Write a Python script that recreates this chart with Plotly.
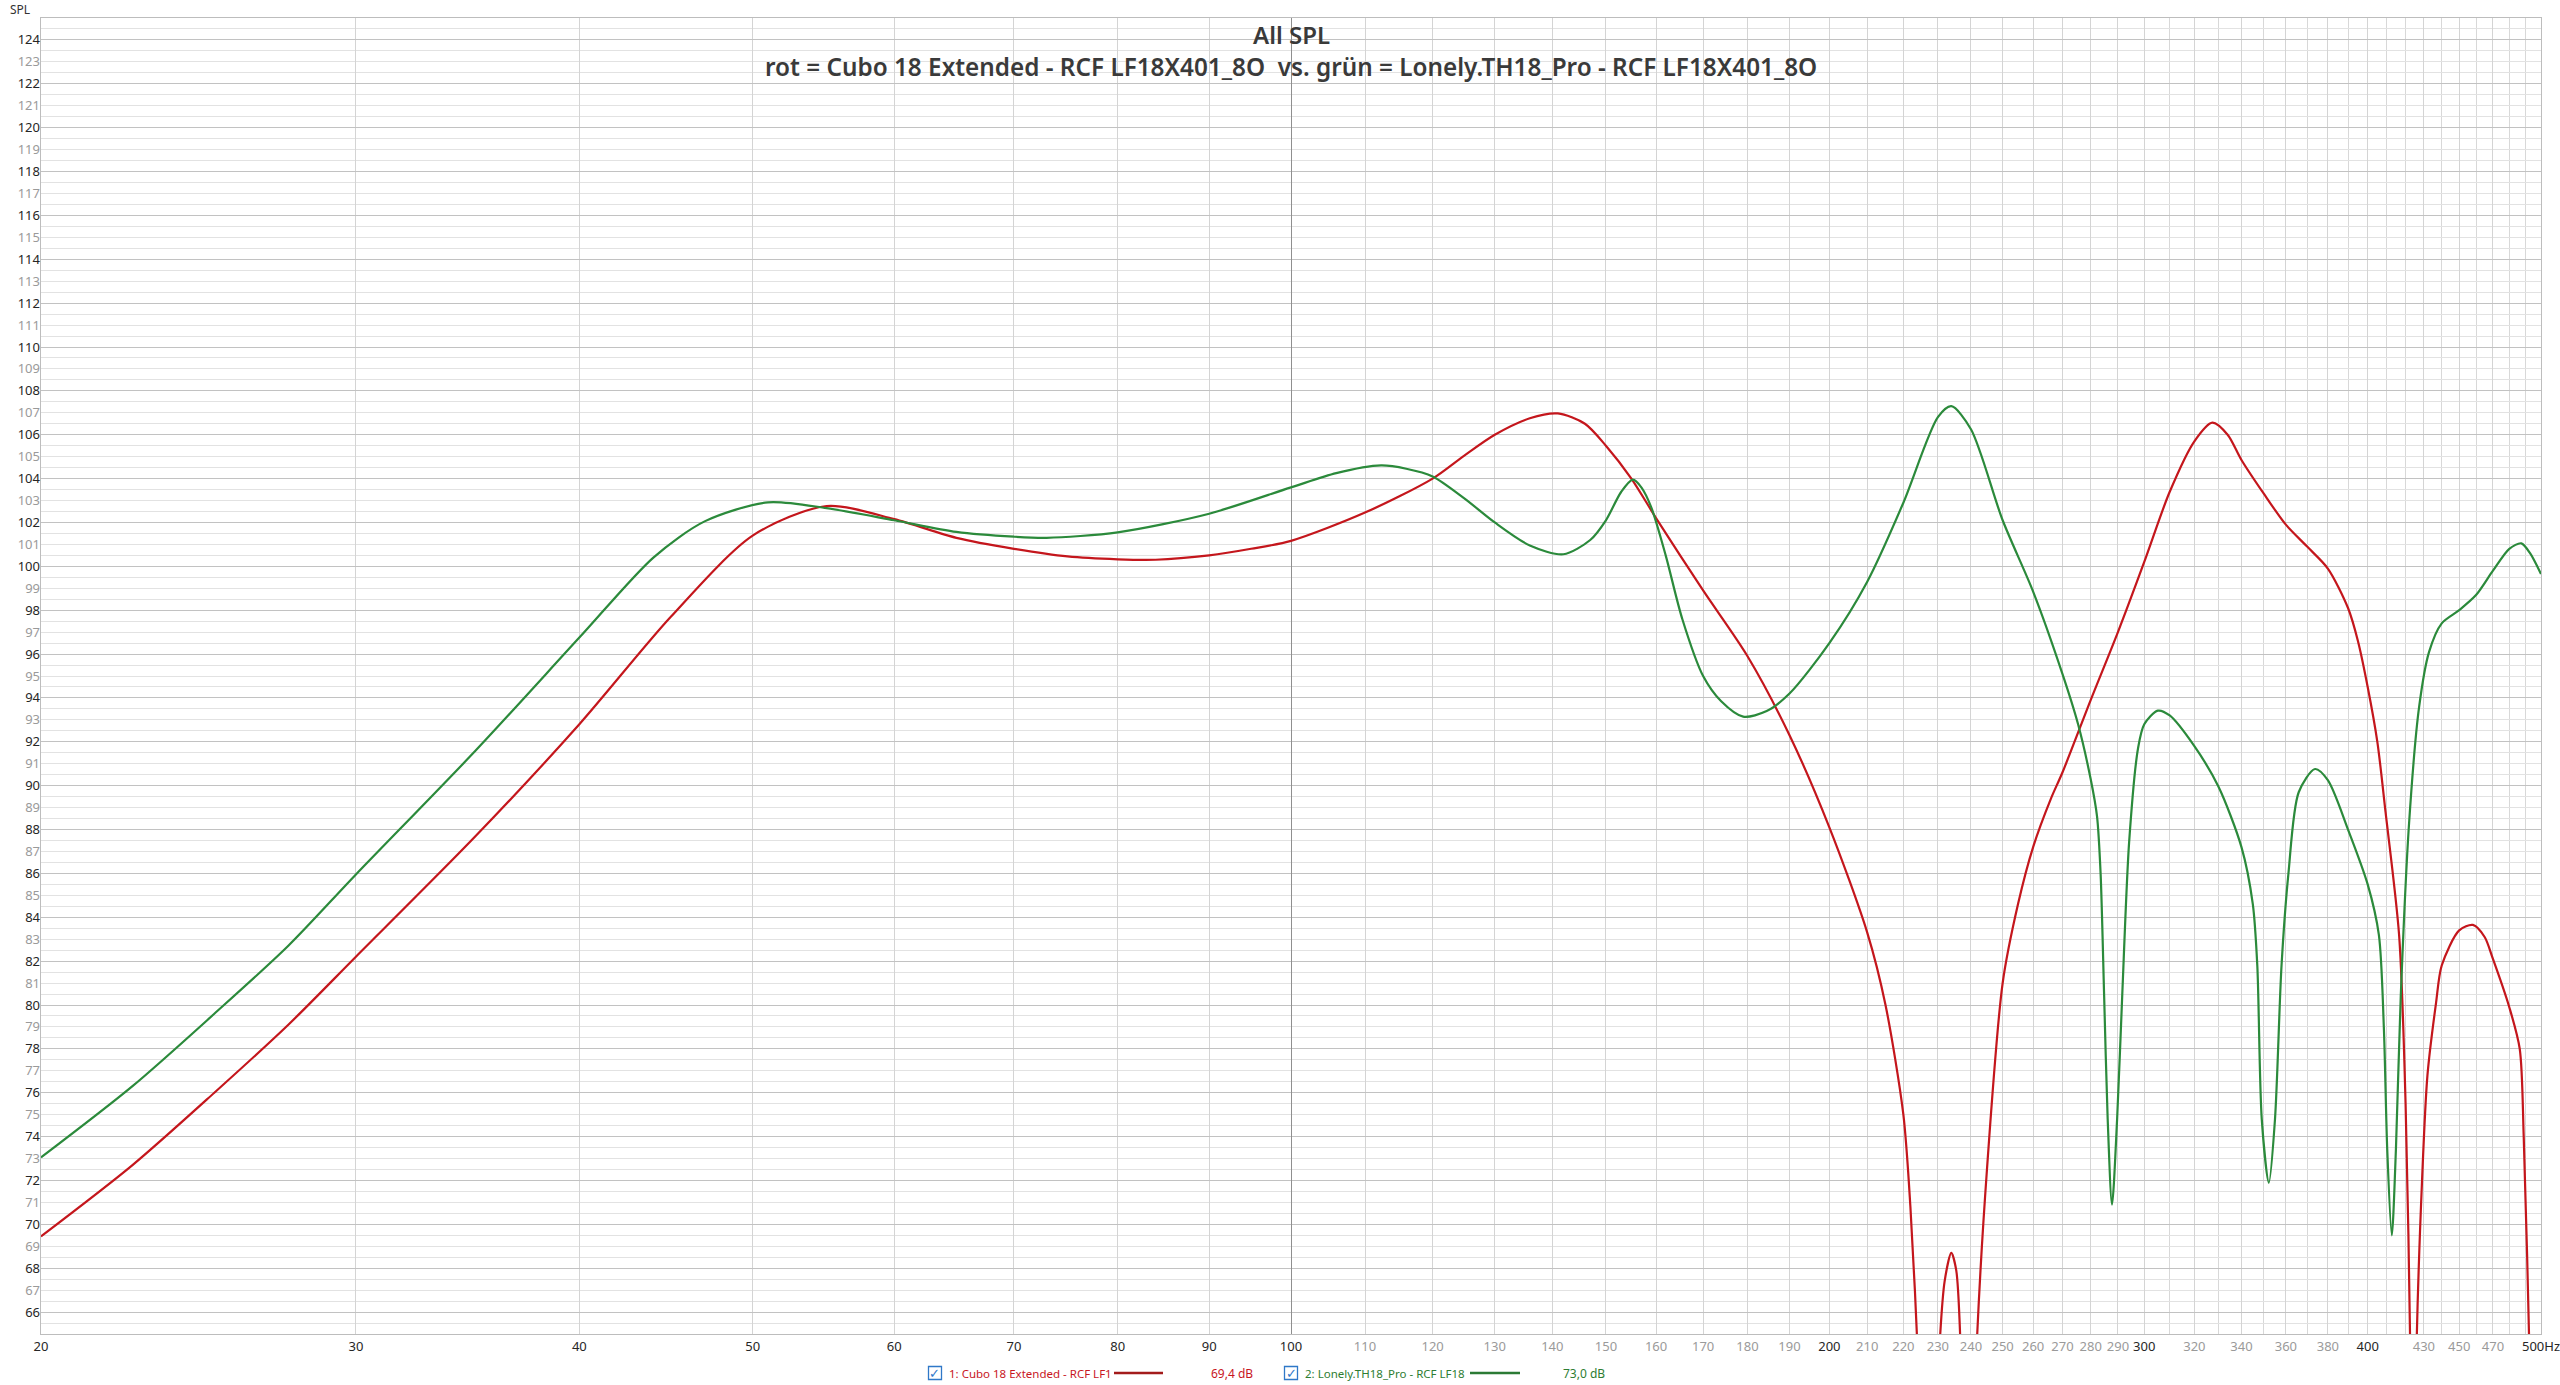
import plotly.graph_objects as go
import math

# ---------------- data ----------------
RED_NAME = "1: Cubo 18 Extended - RCF LF1"
GREEN_NAME = "2: Lonely.TH18_Pro - RCF LF18"
RED_VALUE_TEXT = "69,4 dB"
GREEN_VALUE_TEXT = "73,0 dB"

RED_FREQ = [20, 22.5, 25, 27.5, 30, 35, 40, 45, 50, 55, 60, 65, 70, 75, 80, 84, 90, 95,
            100, 110, 120, 125, 130, 136, 141, 146, 150, 155, 160, 170, 180, 190, 200, 210, 215, 220, 222, 224,
            227, 230.5, 232, 234, 235.5, 236.8, 239, 241.8, 245, 250, 255, 260, 266, 270, 280, 290, 300,
            310, 320, 327.5, 334, 340, 350, 360, 370, 380, 390, 395, 400, 405, 409.3, 416.5, 420, 422.5,
            424.2, 426, 429, 432, 436.8, 440, 450, 458, 465, 470, 480, 486.5, 489, 492.5, 496, 500]
RED_SPL = [69.45, 72.7, 76.0, 79.1, 82.2, 87.7, 92.8, 97.7, 101.4, 102.75, 102.15, 101.3,
           100.8, 100.45, 100.32, 100.3, 100.5, 100.8, 101.16, 102.45, 104.0, 105.05, 106.0, 106.75, 106.97, 106.5,
           105.5, 104.0, 102.2, 98.9, 95.9, 92.3, 88.1, 83.3, 80.0, 75.0, 70.8, 64.5, 50, 64.5, 67.4, 68.7,
           67.9, 64.5, 50, 64.5, 72.5, 81.0, 84.6, 87.2, 89.4, 90.6, 93.9, 97.0, 100.2, 103.4, 105.7, 106.55,
           106.0, 104.85, 103.3, 101.9, 100.9, 99.9, 98.1, 96.6, 94.5, 92.0, 88.8, 83.2, 75.5, 64.5, 50,
           64.5, 72.0, 76.8, 80.1, 81.8, 83.4, 83.65, 83.1, 82.1, 79.9, 78.0, 74.0, 64.5, 50, 40]

GREEN_FREQ = [20, 22.5, 25, 27.5, 30, 35, 40, 44, 47, 51, 55, 60, 65, 70, 73, 80, 90, 100,
              106, 112.3, 116, 120, 125, 130, 136, 142, 147, 150, 153, 155.3, 157, 159, 162, 165.5, 170,
              174, 179, 184.5, 190, 200, 210, 220, 230, 234, 240, 250, 260, 270, 275.5, 280, 282.3, 283.6,
              284.9, 286.2, 287.8, 289.7, 291.6, 294.2, 297.6, 300, 305.3, 310, 320, 330, 340, 345, 347,
              349, 352.2, 355, 358, 361.2, 366, 373.8, 380, 390, 400, 405.8, 408.4, 410.2, 412.6, 414.8,
              417.4, 421.9, 427.4, 432.9, 440, 450, 460, 470, 480, 487.5, 493, 500]
GREEN_SPL = [73.05, 76.3, 79.6, 82.7, 85.95, 91.6, 96.75, 100.4, 102.05, 102.92, 102.65, 102.1,
             101.57, 101.35, 101.3, 101.55, 102.4, 103.6, 104.25, 104.6, 104.45, 104.1, 103.1, 102.0, 100.95,
             100.55, 101.2, 102.1, 103.4, 103.95, 103.6, 102.7, 100.5, 97.6, 95.0, 93.85, 93.15, 93.4, 94.2,
             96.5, 99.3, 102.9, 106.8, 107.3, 106.25, 102.1, 98.85, 95.1, 92.8, 90.3, 88.6, 86.0, 80.4, 74.8,
             70.9, 74.8, 80.4, 87.4, 91.7, 92.8, 93.42, 93.2, 91.8, 89.97, 87.2, 84.6, 81.8, 74.8, 71.9, 74.8,
             81.8, 86.0, 89.7, 90.76, 90.25, 88.0, 85.5, 83.2, 79.0, 73.4, 69.5, 73.4, 80.4, 88.3, 93.6, 96.1,
             97.4, 98.0, 98.7, 99.8, 100.8, 101.05, 100.6, 99.65]

assert len(RED_FREQ) == len(RED_SPL)
assert len(GREEN_FREQ) == len(GREEN_SPL)

# axis ticks
X_RANGE = [20, 500]
Y_RANGE = [65, 125]
X_LABEL_VALS = [20, 30, 40, 50, 60, 70, 80, 90, 100, 110, 120, 130, 140, 150, 160, 170, 180, 190, 200,
                210, 220, 230, 240, 250, 260, 270, 280, 290, 300, 320, 340, 360, 380, 400, 430, 450, 470, 500]
X_LABEL_TEXT = [str(v) for v in X_LABEL_VALS[:-1]] + ["500Hz"]
X_STRONG_LABELS = [20, 30, 40, 50, 60, 70, 80, 90, 100, 200, 300, 400, 500]
X_UNLABELED_GRID = [310, 330, 350, 370, 390, 410, 420, 440, 460, 480, 490]
X_DARK_GRID = [100]
Y_LABEL_VALS = list(range(66, 125))
Y_MAJOR_GRID = list(range(66, 125, 2))
Y_MINOR_GRID = [v / 2 for v in range(131, 250) if v % 4 != 0]

TITLE_1 = "All SPL"
TITLE_2 = "rot = Cubo 18 Extended - RCF LF18X401_8O  vs. grün = Lonely.TH18_Pro - RCF LF18X401_8O"

# ---------------- style ----------------
FONT = "Noto Sans, DejaVu Sans, sans-serif"
RED = "#c4161c"
GREEN = "#2b8a3b"
RED_TEXT = "#c8161e"
GREEN_TEXT = "#2e7d32"
DARK_LBL = "#262626"
LIGHT_LBL = "#9a9a9a"
CHECK_BLUE = "#2f78c8"

W, H = 2560, 1385
ML, MR, MT, MB = 41, 19, 18, 51
PW, PH = W - ML - MR, H - MT - MB


def px_x(x):
    return (x - ML) / PW


def px_y(y):
    return (H - MB - y) / PH


def colored(txt, strong):
    return f'<span style="color:{DARK_LBL if strong else LIGHT_LBL}">{txt}</span>'


fig = go.Figure()
fig.add_trace(go.Scatter(x=RED_FREQ, y=RED_SPL, mode="lines", name=RED_NAME,
                         line=dict(color=RED, width=2.2, shape="spline", smoothing=0.8),
                         hoverinfo="skip", showlegend=False))
fig.add_trace(go.Scatter(x=GREEN_FREQ, y=GREEN_SPL, mode="lines", name=GREEN_NAME,
                         line=dict(color=GREEN, width=2.2, shape="spline", smoothing=0.8),
                         hoverinfo="skip", showlegend=False))
# invisible helpers so that the overlay axes (labels / dark grid line) exist
fig.add_trace(go.Scatter(x=[X_RANGE[0]], y=[Y_RANGE[0]], xaxis="x", yaxis="y2", mode="markers",
                         marker=dict(opacity=0), hoverinfo="skip", showlegend=False))
fig.add_trace(go.Scatter(x=[X_RANGE[0]], y=[Y_RANGE[0]], xaxis="x2", yaxis="y", mode="markers",
                         marker=dict(opacity=0), hoverinfo="skip", showlegend=False))

xr = [math.log10(X_RANGE[0]), math.log10(X_RANGE[1])]

fig.update_layout(
    width=W, height=H,
    margin=dict(l=ML, r=MR, t=MT, b=MB, pad=0, autoexpand=False),
    paper_bgcolor="white", plot_bgcolor="white",
    hovermode=False, showlegend=False,
    font=dict(family=FONT, size=13, color=DARK_LBL),
    xaxis=dict(type="log", range=xr, tickmode="array", tickvals=X_LABEL_VALS,
               ticktext=[colored(t, v in X_STRONG_LABELS) for v, t in zip(X_LABEL_VALS, X_LABEL_TEXT)],
               showgrid=True, gridcolor="#d4d4d4", gridwidth=1, ticks="", zeroline=False,
               showline=True, linecolor="#bdbdbd", linewidth=1, mirror=True, automargin=False,
               tickfont=dict(size=13), fixedrange=True, ticklabeloverflow="allow",
               minor=dict(tickmode="array", tickvals=X_UNLABELED_GRID, showgrid=True,
                          gridcolor="#d8d8d8", ticks="")),
    xaxis2=dict(type="log", range=xr, overlaying="x", tickmode="array", tickvals=X_DARK_GRID,
                showgrid=True, gridcolor="#8f8f8f", showticklabels=False, ticks="", automargin=False,
                zeroline=False, showline=False),
    yaxis=dict(range=Y_RANGE, tickmode="array", tickvals=Y_MAJOR_GRID, showticklabels=False,
               showgrid=True, gridcolor="#c2c2c2", gridwidth=1, ticks="", zeroline=False, automargin=False,
               showline=True, linecolor="#bdbdbd", linewidth=1, mirror=True, fixedrange=True,
               minor=dict(tickmode="array", tickvals=Y_MINOR_GRID, showgrid=True,
                          gridcolor="#e2e2e2", ticks="")),
    yaxis2=dict(range=Y_RANGE, overlaying="y", side="left", tickmode="array", tickvals=Y_LABEL_VALS,
                ticktext=[colored(str(v), v % 2 == 0) for v in Y_LABEL_VALS], automargin=False,
                showgrid=False, ticks="", zeroline=False, showline=False,
                tickfont=dict(size=13)),
)

ann = []
ann.append(dict(text=TITLE_1, x=0.5, y=px_y(34), xref="paper", yref="paper", showarrow=False,
                font=dict(size=24, color="#3a3a3a", family=FONT, weight=600), xanchor="center", yanchor="middle"))
ann.append(dict(text=TITLE_2, x=0.5, y=px_y(66), xref="paper", yref="paper", showarrow=False,
                font=dict(size=24.3, color="#3a3a3a", family=FONT, weight=600), xanchor="center", yanchor="middle"))
ann.append(dict(text="SPL", x=px_x(20), y=px_y(9), xref="paper", yref="paper", showarrow=False,
                font=dict(size=12, color="#333333"), xanchor="center", yanchor="middle"))

LEG_Y = px_y(1373)
legend_items = [
    (935, 947, RED_NAME, RED_TEXT, 1114, 1163, "#a31b1b", 1209, RED_VALUE_TEXT),
    (1291, 1303, GREEN_NAME, GREEN_TEXT, 1470, 1520, "#2b7a34", 1561, GREEN_VALUE_TEXT),
]
shapes = []
for cb, tx, name, tcol, l0, l1, lcol, vx, vtxt in legend_items:
    shapes.append(dict(type="rect", xref="paper", yref="paper",
                       x0=px_x(cb - 6.5), x1=px_x(cb + 6.5), y0=px_y(1379.5), y1=px_y(1366.5),
                       line=dict(color=CHECK_BLUE, width=1.3), fillcolor="white"))
    ann.append(dict(text="✓", x=px_x(cb), y=LEG_Y, xref="paper", yref="paper", showarrow=False,
                    font=dict(size=13, color=CHECK_BLUE, family="DejaVu Sans"), xanchor="center", yanchor="middle"))
    ann.append(dict(text=name, x=px_x(tx), y=LEG_Y, xref="paper", yref="paper", showarrow=False,
                    font=dict(size=11.5, color=tcol), xanchor="left", yanchor="middle"))
    ann.append(dict(text=vtxt, x=px_x(vx), y=LEG_Y, xref="paper", yref="paper", showarrow=False,
                    font=dict(size=12, color=tcol), xanchor="left", yanchor="middle"))
    shapes.append(dict(type="line", xref="paper", yref="paper", x0=px_x(l0), x1=px_x(l1),
                       y0=LEG_Y, y1=LEG_Y, line=dict(color=lcol, width=2.5)))

fig.update_layout(annotations=ann, shapes=shapes)

fig.write_html("out.html", config={"displayModeBar": False, "staticPlot": True},
               post_script="document.body.style.margin='0';document.body.style.overflow='hidden';")
